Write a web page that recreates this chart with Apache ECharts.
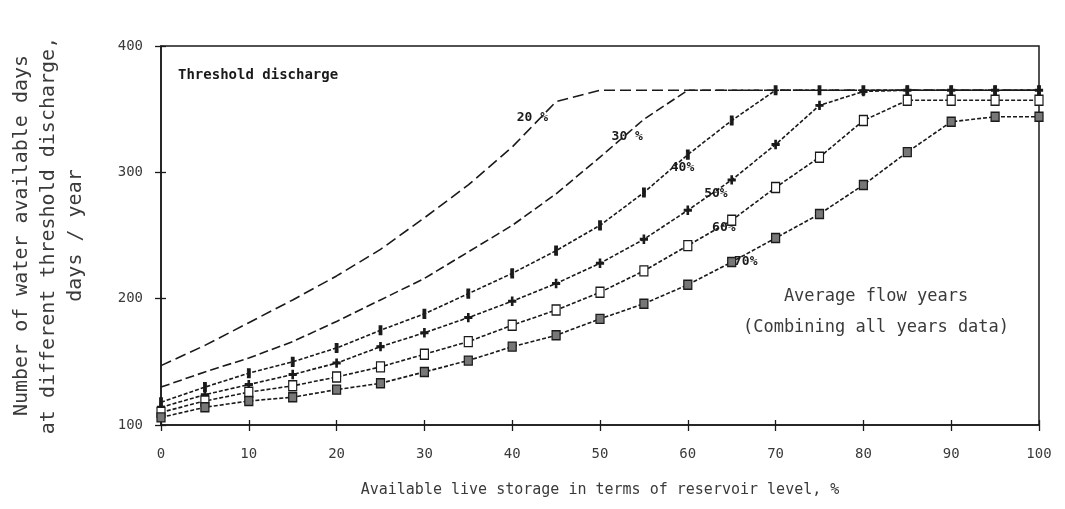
<!DOCTYPE html>
<html>
<head>
<meta charset="utf-8">
<title>Water available days vs live storage</title>
<script src="https://cdn.jsdelivr.net/npm/echarts@6/dist/echarts.min.js"></script>
<style>
  html, body { margin: 0; padding: 0; background: #ffffff; }
  #chart { width: 1065px; height: 509px; }
</style>
</head>
<body>
<div id="chart"></div>
<script>
// Available live storage (% of reservoir level)
const storageLevels = [0, 5, 10, 15, 20, 25, 30, 35, 40, 45, 50, 55, 60, 65, 70, 75, 80, 85, 90, 95, 100];

// Days per year with water above each threshold discharge
const days20 = [147, 163, 181, 199, 218, 239, 264, 290, 320, 356, 365, 365, 365, 365, 365, 365, 365, 365, 365, 365, 365];
const days30 = [130, 142, 153, 166, 182, 199, 216, 237, 258, 283, 312, 342, 365, 365, 365, 365, 365, 365, 365, 365, 365];
const days40 = [118, 130, 141, 150, 161, 175, 188, 204, 220, 238, 258, 284, 314, 341, 365, 365, 365, 365, 365, 365, 365];
const days50 = [114, 124, 132, 140, 149, 162, 173, 185, 198, 212, 228, 247, 270, 294, 322, 353, 364, 365, 365, 365, 365];
const days60 = [110, 119, 126, 131, 138, 146, 156, 166, 179, 191, 205, 222, 242, 262, 288, 312, 341, 357, 357, 357, 357];
const days70 = [106, 114, 119, 122, 128, 133, 142, 151, 162, 171, 184, 196, 211, 229, 248, 267, 290, 316, 340, 344, 344];

const seriesNames = ['20 %', '30 %', '40%', '50%', '60%', '70%'];
// Where each curve's name is written, in axis units [storage %, days]
const labelSpots = [[42.3, 343.5], [53.1, 328.5], [59.4, 304], [63.2, 283.4], [64.1, 256.5], [66.6, 229.6]];

const xTicks = [0, 10, 20, 30, 40, 50, 60, 70, 80, 90, 100];
const yTicks = [100, 200, 300, 400];

const mono = '"DejaVu Sans Mono", "Liberation Mono", monospace';
const ink = '#1a1a1a';
const soft = '#3a3a3a';

function pairs(ys) {
  return storageLevels.map((x, i) => [x, ys[i]]);
}

const lineDefs = [
  { data: days20, dash: [11, 5], symbol: 'none', size: 0, fill: ink },
  { data: days30, dash: [9, 4], symbol: 'none', size: 0, fill: ink },
  { data: days40, dash: [4, 2], symbol: 'rect', size: [3, 8], fill: ink },
  { data: days50, dash: [4, 2], symbol: 'path://M4,0 L6,0 L6,4 L10,4 L10,6 L6,6 L6,10 L4,10 L4,6 L0,6 L0,4 L4,4 Z', size: [7, 8], fill: ink },
  { data: days60, dash: [4, 2], symbol: 'rect', size: [8, 10], fill: '#ffffff' },
  { data: days70, dash: [4, 2], symbol: 'rect', size: [8, 9], fill: '#777777' }
];

const series = lineDefs.map((d, i) => ({
  name: seriesNames[i],
  type: 'line',
  data: pairs(d.data),
  symbol: d.symbol,
  symbolSize: d.size,
  showSymbol: d.symbol !== 'none',
  itemStyle: { color: d.fill, borderColor: ink, borderWidth: 1.3 },
  lineStyle: { color: ink, width: 1.6, type: d.dash },
  z: 3 + i,
  markPoint: {
    symbol: 'circle',
    symbolSize: 0,
    silent: true,
    label: {
      show: true,
      position: 'inside',
      formatter: seriesNames[i],
      fontFamily: mono,
      fontSize: 13,
      fontWeight: 'bold',
      color: ink
    },
    data: [{ coord: labelSpots[i] }]
  }
}));

const chart = echarts.init(document.getElementById('chart'), null, { renderer: 'canvas' });

chart.setOption({
  animation: false,
  backgroundColor: '#ffffff',
  grid: {
    left: 157, right: 26, top: 46, bottom: 84,
    show: true, borderColor: ink, borderWidth: 1.5, backgroundColor: 'transparent'
  },
  xAxis: [
    {
      type: 'value', min: 0, max: 100, interval: 10,
      name: 'Available live storage in terms of reservoir level, %',
      nameLocation: 'middle', nameGap: 58,
      nameTextStyle: { fontFamily: mono, fontSize: 15, color: soft },
      axisLine: { show: true, lineStyle: { color: ink, width: 1.5 } },
      axisTick: { show: true, length: 6, lineStyle: { color: ink, width: 1.3 } },
      axisLabel: {
        margin: 22, fontFamily: mono, fontSize: 14, color: soft,
        formatter: v => (xTicks.includes(v) ? String(v) : '')
      },
      splitLine: { show: false }
    },
    {
      type: 'value', min: 0, max: 100, interval: 10, position: 'bottom',
      axisLine: { show: false },
      axisTick: { show: true, inside: true, length: 5, lineStyle: { color: ink, width: 1.3 } },
      axisLabel: { show: false },
      splitLine: { show: false }
    }
  ],
  yAxis: [
    {
      type: 'value', min: 100, max: 400, interval: 100,
      name: 'Number of water available days\nat different threshold discharge,\ndays / year',
      nameLocation: 'middle', nameRotate: 90, nameGap: 72,
      nameTextStyle: { fontFamily: mono, fontSize: 20, lineHeight: 27, color: soft, align: 'center' },
      axisLine: { show: true, lineStyle: { color: ink, width: 1.5 } },
      axisTick: { show: true, length: 6, lineStyle: { color: ink, width: 1.3 } },
      axisLabel: {
        margin: 18, fontFamily: mono, fontSize: 14, color: soft,
        formatter: v => (yTicks.includes(v) ? String(v) : '')
      },
      splitLine: { show: false }
    },
    {
      type: 'value', min: 100, max: 400, interval: 100, position: 'left',
      axisLine: { show: false },
      axisTick: { show: true, inside: true, length: 5, lineStyle: { color: ink, width: 1.3 } },
      axisLabel: { show: false },
      splitLine: { show: false }
    }
  ],
  series: series,
  graphic: [
    {
      type: 'text', x: 178, y: 68, silent: true,
      style: { text: 'Threshold discharge', fontFamily: mono, fontSize: 14, fontWeight: 'bold', fill: ink }
    },
    {
      type: 'text', x: 876, y: 288, silent: true,
      style: { text: 'Average flow years', fontFamily: mono, fontSize: 17, fill: soft, textAlign: 'center' }
    },
    {
      type: 'text', x: 876, y: 319, silent: true,
      style: { text: '(Combining all years data)', fontFamily: mono, fontSize: 17, fill: soft, textAlign: 'center' }
    }
  ]
});
</script>
</body>
</html>
